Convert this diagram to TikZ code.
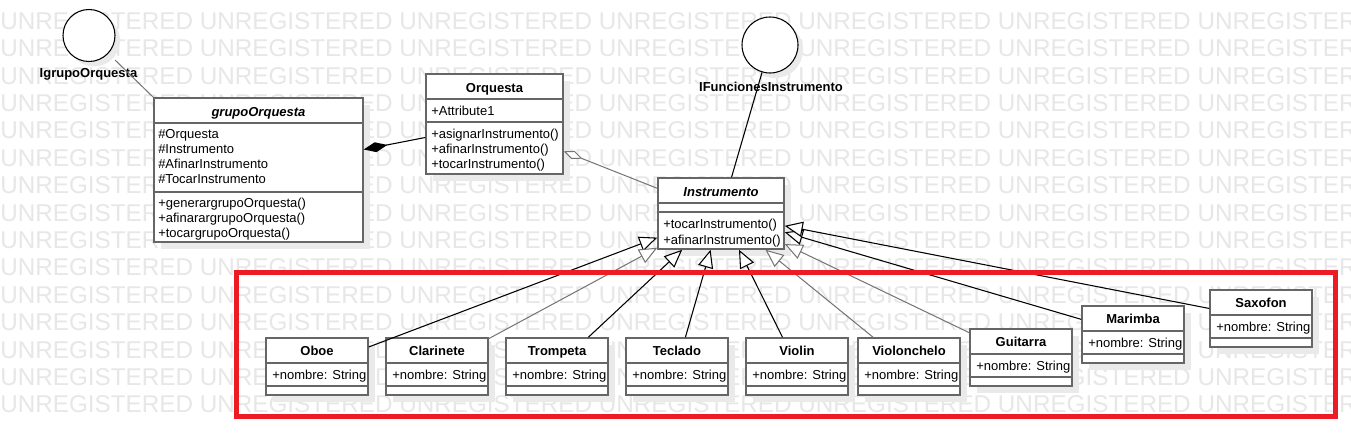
\documentclass[tikz,border=0pt]{standalone}
\usepackage{fontspec}
\setmainfont{Liberation Sans}
\usetikzlibrary{arrows.meta,fit}
\definecolor{wmgray}{RGB}{231,231,231}
\definecolor{shgray}{RGB}{234,234,234}
\definecolor{boxgray}{RGB}{102,102,102}
\definecolor{linegray}{RGB}{115,115,115}
\definecolor{redbox}{RGB}{237,28,36}
\tikzset{
  wm/.style={inner sep=0pt, text=wmgray, font=\fontsize{18.2pt}{20pt}\selectfont},
  clsbox/.style={draw=boxgray, line width=1.1pt, fill=white, inner sep=0pt},
  divline/.style={draw=boxgray, line width=1.1pt},
  txt/.style={inner sep=0pt, font=\fontsize{9.75pt}{11pt}\selectfont},
  ttl/.style={inner sep=0pt, font=\fontsize{9.75pt}{11pt}\selectfont\bfseries},
  ittl/.style={inner sep=0pt, font=\fontsize{9.75pt}{11pt}\selectfont\bfseries\itshape},
  ifc/.style={circle, draw=black, line width=0.8pt, fill=white, inner sep=0pt},
  conn/.style={draw=black, line width=0.8pt},
  connl/.style={draw=linegray, line width=0.75pt},
  gen/.style={-{Triangle[length=13.5pt,width=11.5pt,fill=white]}},
  comp/.style={-{Diamond[length=18pt,width=7.5pt]}},
  aggr/.style={-{Diamond[length=15pt,width=6.5pt,fill=white]}},
  redframe/.style={draw=redbox, line width=3.75pt}
}
\newcommand\umlbox[5]{%
  \fill[shgray] ({#2+7},{#3+7}) rectangle ({#4+7},{#5+7});
  \node[clsbox, fit={(#2,#3) (#4,#5)}] (#1) {};}
\newcommand\subcls[4]{%
  \umlbox{#1}{#2}{#3}{#2+102}{#3+57}
  \draw[divline] (#2,#3+25) -- (#2+102,#3+25);
  \draw[divline] (#2,#3+48) -- (#2+102,#3+48);
  \node[ttl, anchor=base] (#1-t) at (#2+51,#3+17) {#4};
  \node[txt, anchor=base west] (#1-a) at (#2+6,#3+41) {+nombre: String};}
\begin{document}
\begin{tikzpicture}[x=0.75pt,y=-0.75pt]
\useasboundingbox (0,0) rectangle (1351,435);
\fill[white] (0,0) rectangle (1351,435);
% watermark
\begin{scope}
\clip (0,0) rectangle (1351,435);
\foreach \k in {0,...,14}{
  \node[wm, anchor=west] (wm\k) at (0,{21+27.4*\k}) {UNREGISTERED UNREGISTERED UNREGISTERED UNREGISTERED UNREGISTERED UNREGISTERED UNREGISTER};
}
\end{scope}
% interfaces
\fill[shgray] (94,40.5) circle[radius=19.5pt];
\node[ifc, minimum size=39pt] (c1) at (89,35.5) {};
\node[ttl, anchor=base] (c1l) at (88.5,78) {IgrupoOrquesta};
\fill[shgray] (775,50) circle[radius=21pt];
\node[ifc, minimum size=42pt] (c2) at (770,45) {};
\node[ttl, anchor=base] (c2l) at (771,91) {IFuncionesInstrumento};
\coordinate (c1e) at (115,60);
% grupoOrquesta
\umlbox{grupo}{154}{98}{363}{242}
\draw[divline] (154,123) -- (363,123);
\draw[divline] (154,192) -- (363,192);
\node[ittl, anchor=base] (grupo-t) at (258.5,116) {grupoOrquesta};
\node[txt, anchor=base west] (grupo-a1) at (158,138) {\#Orquesta};
\node[txt, anchor=base west] (grupo-a2) at (158,153) {\#Instrumento};
\node[txt, anchor=base west] (grupo-a3) at (158,168) {\#AfinarInstrumento};
\node[txt, anchor=base west] (grupo-a4) at (158,183) {\#TocarInstrumento};
\node[txt, anchor=base west] (grupo-m1) at (158,207) {+generargrupoOrquesta()};
\node[txt, anchor=base west] (grupo-m2) at (158,222) {+afinarargrupoOrquesta()};
\node[txt, anchor=base west] (grupo-m3) at (158,237) {+tocargrupoOrquesta()};
% Orquesta
\umlbox{orq}{426}{74}{563}{174}
\draw[divline] (426,99) -- (563,99);
\draw[divline] (426,122) -- (563,122);
\node[ttl, anchor=base] (orq-t) at (494.5,92) {Orquesta};
\node[txt, anchor=base west] (orq-a1) at (431,115) {+Attribute1};
\node[txt, anchor=base west] (orq-m1) at (431,138) {+asignarInstrumento()};
\node[txt, anchor=base west] (orq-m2) at (431,153) {+afinarInstrumento()};
\node[txt, anchor=base west] (orq-m3) at (431,168) {+tocarInstrumento()};
% Instrumento
\umlbox{inst}{658}{178}{784}{249}
\draw[divline] (658,203) -- (784,203);
\draw[divline] (658,212) -- (784,212);
\node[ittl, anchor=base] (inst-t) at (721,196) {Instrumento};
\node[txt, anchor=base west] (inst-m1) at (663,228) {+tocarInstrumento()};
\node[txt, anchor=base west] (inst-m2) at (663,244) {+afinarInstrumento()};
% subclasses
\subcls{oboe}{266}{338}{Oboe}
\subcls{clar}{386}{338}{Clarinete}
\subcls{tromp}{506}{338}{Trompeta}
\subcls{tecl}{626}{338}{Teclado}
\subcls{viol}{746}{338}{Violin}
\subcls{vchel}{858}{338}{Violonchelo}
\subcls{guit}{970}{329}{Guitarra}
\subcls{mari}{1082}{306}{Marimba}
\subcls{saxo}{1210}{290}{Saxofon}
% connectors
\draw[connl] (c1e) -- (grupo.north west);
\draw[conn] (c2) -- (inst);
\draw[conn, comp] (orq) -- (grupo);
\draw[connl, aggr] (inst) -- (orq);
\draw[conn, gen] (oboe) -- (inst);
\draw[connl, gen] (clar) -- (inst);
\draw[conn, gen] (tromp) -- (inst);
\draw[conn, gen] (tecl) -- (inst);
\draw[conn, gen] (viol) -- (inst);
\draw[connl, gen] (vchel) -- (inst);
\draw[connl, gen] (guit) -- (inst);
\draw[conn, gen] (mari) -- (inst);
\draw[conn, gen] (saxo) -- (inst);
% red frame
\draw[redframe] (236.5,272.5) rectangle (1335.5,416.5);
\end{tikzpicture}
\end{document}
